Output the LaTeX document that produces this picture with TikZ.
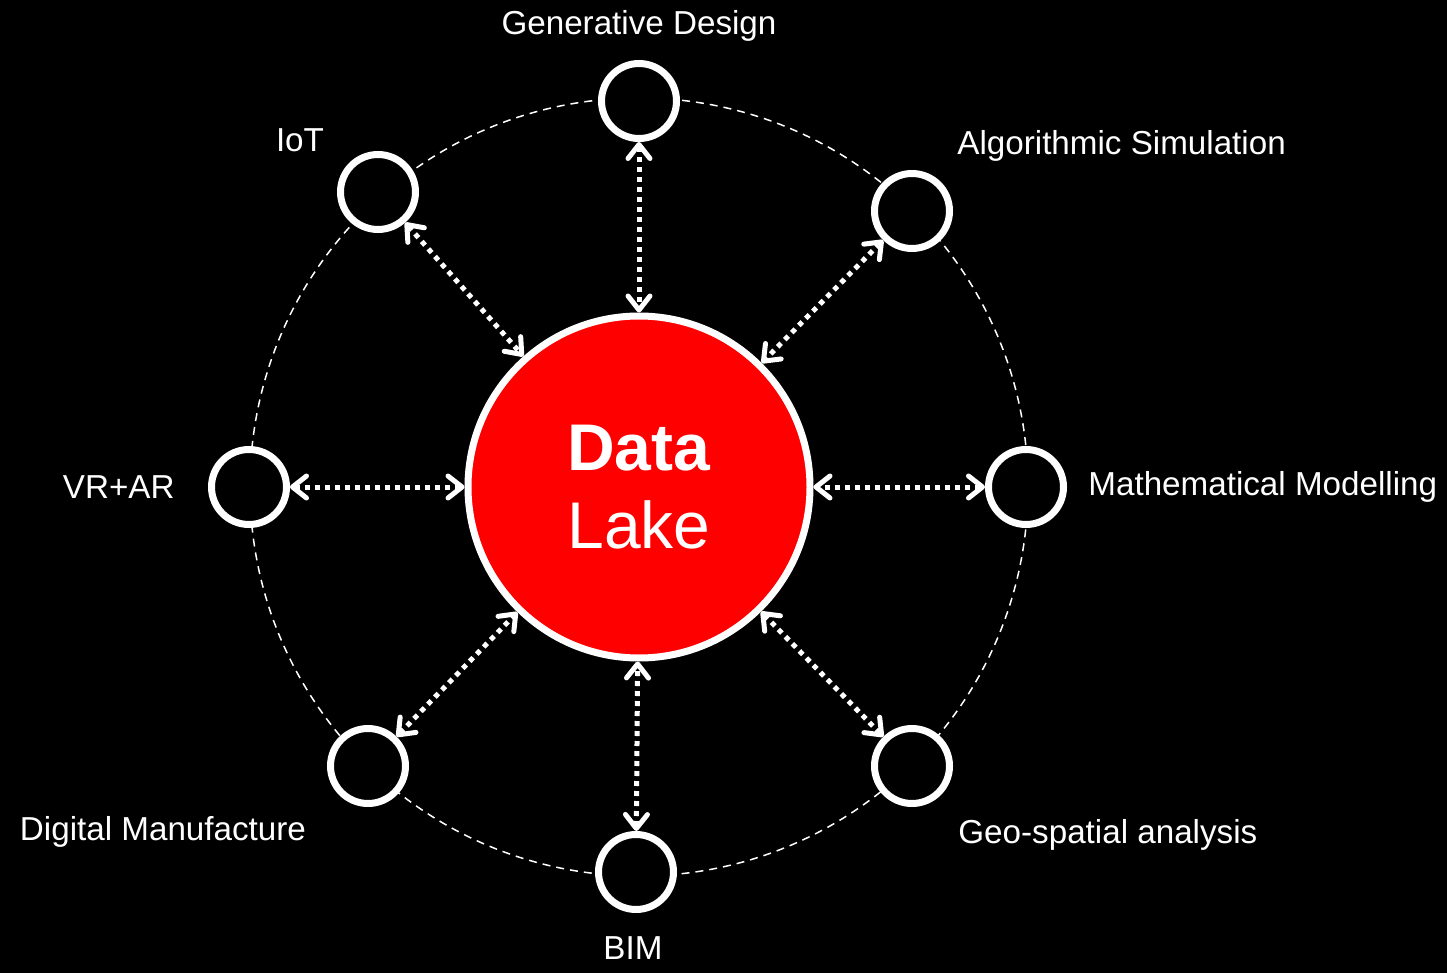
\documentclass[tikz,border=0pt]{standalone}
\usepackage{fontspec}
\setmainfont{Liberation Sans}
\usetikzlibrary{arrows.meta}
\definecolor{lakered}{HTML}{FF0000}
\tikzset{
  hub/.style={circle,draw=white,line width=3.5pt,fill=lakered,minimum size=171pt,inner sep=0pt,align=center,text=white,font=\fontsize{33}{39}\selectfont},
  spoke/.style={circle,draw=white,line width=3.5pt,fill=black,minimum size=37.5pt,inner sep=0pt},
  lbl/.style={text=white,font=\fontsize{16.6}{19}\selectfont,inner sep=0pt},
  ring/.style={draw=white,line width=0.75pt,dash pattern=on 4pt off 3pt},
  flow/.style={{Straight Barb[length=7pt,width=11pt,line cap=round,line join=round]}-{Straight Barb[length=7pt,width=11pt,line cap=round,line join=round]},draw=white,line width=2.5pt,dash pattern=on 2.5pt off 2.5pt},
}
\begin{document}
\begin{tikzpicture}[x=0.5pt,y=-0.5pt]
  \fill[black] (0,0) rectangle (1447,973);
  \useasboundingbox (0,0) rectangle (1447,973);
  \coordinate (mid) at (639,487);
  \draw[ring] (mid) circle[radius=194.5pt];
  \node[hub] (lake) at (639,487) {\textbf{Data}\\Lake};
  \node[spoke] (gen) at (639,101) {};
  \node[spoke] (iot) at (378,192) {};
  \node[spoke] (algo) at (912,211) {};
  \node[spoke] (vrar) at (249,487) {};
  \node[spoke] (math) at (1026,487) {};
  \node[spoke] (digi) at (368,766) {};
  \node[spoke] (geo) at (912,766) {};
  \node[spoke] (bim) at (636,872) {};
  \node[lbl] (genl) at (639,26) {Generative Design};
  \node[lbl] (iotl) at (300,140) {IoT};
  \node[lbl,anchor=west] (algol) at (957,146) {Algorithmic Simulation};
  \node[lbl,anchor=east] (vrarl) at (175,487) {VR+AR};
  \node[lbl,anchor=west] (mathl) at (1088,487) {Mathematical Modelling};
  \node[lbl] (digil) at (163,832) {Digital Manufacture};
  \node[lbl,anchor=west] (geol) at (958,835) {Geo-spatial analysis};
  \node[lbl] (biml) at (633,948) {BIM};
  \foreach \n in {gen,iot,algo,vrar,math,digi,geo,bim} {
    \draw[flow] (\n) -- (lake);
  }
\end{tikzpicture}
\end{document}
